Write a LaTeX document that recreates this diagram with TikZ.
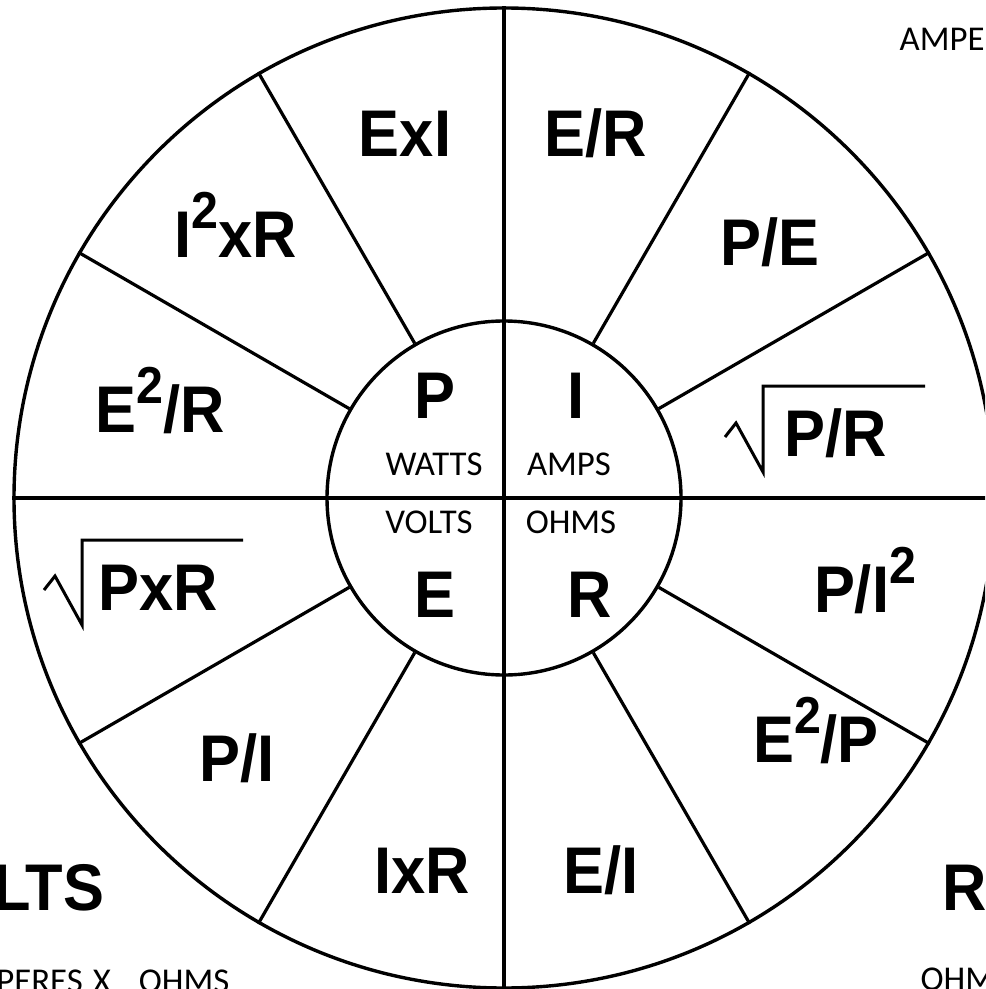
\documentclass[tikz,border=0pt]{standalone}
\usepackage{fontspec}
\setmainfont{Liberation Sans}
\newfontfamily\bigf{Liberation Sans}[FakeStretch=0.93, UprightFont=*, BoldFont=* Bold]
\newfontfamily\smallf{Carlito}
\newcommand\supr[1]{\raisebox{14.5pt}{\fontsize{26}{26}\selectfont #1}}
\tikzset{
  ring/.style={circle, draw, inner sep=0pt, line width=1.7pt},
  big/.style={anchor=base, inner sep=0pt, font=\fontsize{33}{33}\bigf\bfseries},
  bigw/.style={anchor=base west, inner sep=0pt, font=\fontsize{33}{33}\bigf\bfseries},
  bige/.style={anchor=base east, inner sep=0pt, font=\fontsize{33}{33}\bigf\bfseries},
  small/.style={anchor=base, inner sep=0pt, font=\fontsize{17.4}{17.4}\smallf},
  smallw/.style={anchor=base west, inner sep=0pt, font=\fontsize{17.4}{17.4}\smallf},
  smalle/.style={anchor=base east, inner sep=0pt, font=\fontsize{17.4}{17.4}\smallf},
  rad/.style={line width=1.5pt, line join=miter}
}
\begin{document}
\begin{tikzpicture}[x=0.5pt,y=-0.5pt, line width=1.6pt]
\useasboundingbox (0,0) rectangle (985,989);
\clip (0,0) rectangle (985,989);
\coordinate (c) at (504,498);
\node[ring, minimum size=490pt] (outer) at (c) {};
\node[ring, minimum size=177pt] (inner) at (c) {};
% diameters
\draw (outer.west) -- (outer.east);
\draw (outer.north) -- (outer.south);
% spokes
\foreach \a in {30,60,120,150,210,240,300,330}{
  \draw (inner.\a) -- (outer.\a);
}
% centre letters
\node[bigw] (P) at (413,418) {P};
\node[bigw] (I) at (566,418) {I};
\node[bigw] (E) at (413,617) {E};
\node[bigw] (R) at (566,617) {R};
\node[small] (watts) at (434,475) {WATTS};
\node[small] (amps) at (569,475) {AMPS};
\node[small] (volts) at (429,533) {VOLTS};
\node[small] (ohms) at (571,533) {OHMS};
% formulas
\node[big] (f1) at (405,157) {ExI};
\node[big] (f2) at (596,157) {E/R};
\node[big] (f3) at (236,258) {I\supr{2}xR};
\node[big] (f4) at (770,266) {P/E};
\node[big] (f5) at (160,432) {E\supr{2}/R};
\node[big] (f6) at (836,456) {P/R};
\node[big] (f7) at (158,610) {PxR};
\node[big] (f8) at (865,612) {P/I\supr{2}};
\node[big] (f9) at (237,781) {P/I};
\node[big] (f10) at (816,762) {E\supr{2}/P};
\node[big] (f11) at (422,893) {IxR};
\node[big] (f12) at (601,893) {E/I};
% radicals
\draw[rad] (725,437) -- (736,423) -- (763,472) -- (763,386) -- (925,386);
\draw[rad] (44,590) -- (55,576) -- (82,625) -- (82,540) -- (243,540);
% outside labels (cropped)
\node[smallw] (amperes) at (898,51) {AMPERES};
\node[bige] (voltsbig) at (106,910) {VOLTS};
\node[smalle] (axo) at (231,992) {AMPERES\hspace{5pt}X\hspace{14pt}OHMS};
\node[bigw] (rbig) at (941,910) {R};
\node[smallw] (ohmsout) at (919,990) {OHMS};
\end{tikzpicture}
\end{document}
